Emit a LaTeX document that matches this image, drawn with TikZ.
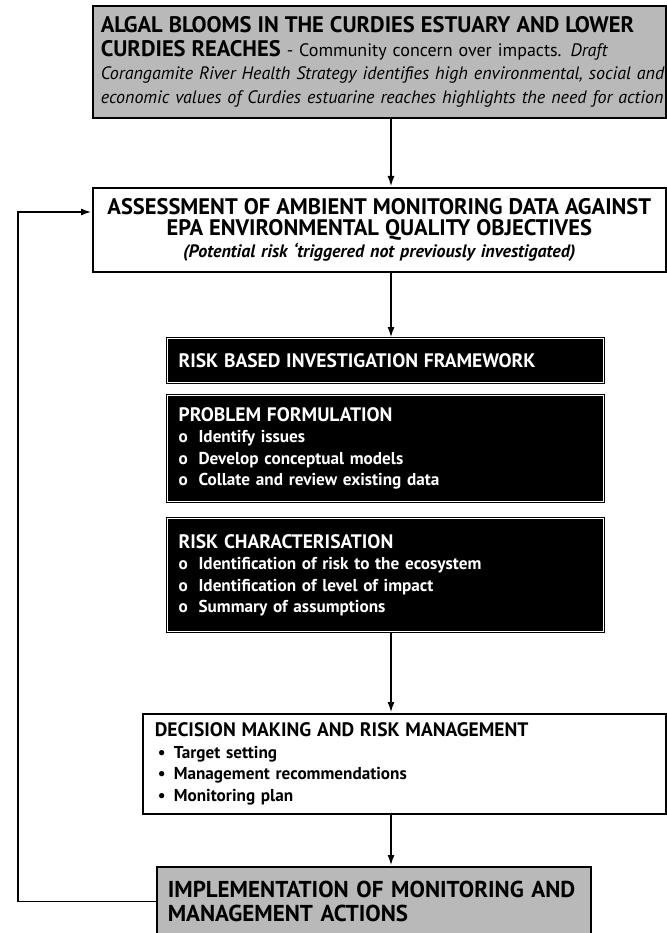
\documentclass[tikz,border=0pt]{standalone}
\usepackage{fontspec}
\setmainfont{PT Sans}
\usetikzlibrary{arrows.meta}

\newcommand{\capsize}{\fontsize{22.5}{24}\selectfont}
\newcommand{\midsize}{\fontsize{19.5}{22}\selectfont}
\newcommand{\itemsize}{\fontsize{17.2}{21.5}\selectfont}
\newcommand{\ring}{\makebox[20pt][l]{o}}
\newcommand{\dotitem}{\makebox[19pt][l]{\hspace{3pt}•}}

\begin{document}
\begin{tikzpicture}[x=1pt,y=-1pt,-,>={Latex[length=10pt,width=7pt]},shorten >=1pt,
  line width=1.2pt,
  box/.style={draw,line width=1.6pt,anchor=north west,inner xsep=8pt,inner ysep=2pt,
    align=left,font=\bfseries\itemsize},
  grey box/.style={box,fill=gray!55},
  plain box/.style={box,fill=white},
  dark box/.style={box,fill=black,text=white,line width=1.2pt,double=white,
    double distance=1pt,inner xsep=11pt}]

  \useasboundingbox (0,0) rectangle (666,933);

  \node[grey box,text width=557pt,minimum height=112pt,
    font=\fontsize{18}{23.5}\selectfont] (1) at (92,5)
    {\mbox{\capsize\bfseries ALGAL BLOOMS IN THE CURDIES ESTUARY AND LOWER}\\
     \mbox{{\capsize\bfseries CURDIES REACHES} - Community concern over impacts. \textit{Draft}}\\
     \mbox{\textit{Corangamite River Health Strategy identifies high environmental, social and}}\\
     \mbox{\textit{economic values of Curdies estuarine reaches highlights the need for action}}};

  \node[plain box,align=center,text width=557pt,minimum height=84pt,
    font=\bfseries\fontsize{18}{21.5}\selectfont] (2) at (92,187)
    {{\capsize ASSESSMENT OF AMBIENT MONITORING DATA AGAINST}\\
     {\capsize EPA ENVIRONMENTAL QUALITY OBJECTIVES}\\
     \textit{(Potential risk ‘triggered not previously investigated)}};

  \node[dark box,text width=414pt,minimum height=44pt] (3) at (167,338)
    {\midsize RISK BASED INVESTIGATION FRAMEWORK};

  \node[dark box,text width=414pt,minimum height=106pt] (4) at (167,395)
    {{\midsize PROBLEM FORMULATION}\\
     \ring Identify issues\\
     \ring Develop conceptual models\\
     \ring Collate and review existing data};

  \node[dark box,text width=414pt,minimum height=113pt] (5) at (167,518)
    {{\midsize RISK CHARACTERISATION}\\
     \ring Identification of risk to the ecosystem\\
     \ring Identification of level of impact\\
     \ring Summary of assumptions};

  \node[plain box,inner xsep=12pt,text width=499pt,minimum height=100pt] (6) at (142,713)
    {{\midsize DECISION MAKING AND RISK MANAGEMENT}\\
     \dotitem Target setting\\
     \dotitem Management recommendations\\
     \dotitem Monitoring plan};

  \node[grey box,inner xsep=11pt,text width=412pt,minimum height=69pt,
    font=\bfseries\fontsize{23}{23.5}\selectfont] (7) at (156,866)
    {IMPLEMENTATION OF MONITORING AND\\
     MANAGEMENT ACTIONS};

  % arrows down the middle, and the loop back
  \coordinate (axis) at (391,0);
  \coordinate (back) at (18,212);

  \draw[->] (1.south -| axis) -- (2.north -| axis);
  \draw[->] (2.south -| axis) -- (3.north -| axis);
  \draw[->] (5.south -| axis) -- (6.north -| axis);
  \draw[->] (6.south -| axis) -- (7.north -| axis);
  \draw[->] (7.west) -| (back) -- (back -| 2.west);
\end{tikzpicture}
\end{document}
